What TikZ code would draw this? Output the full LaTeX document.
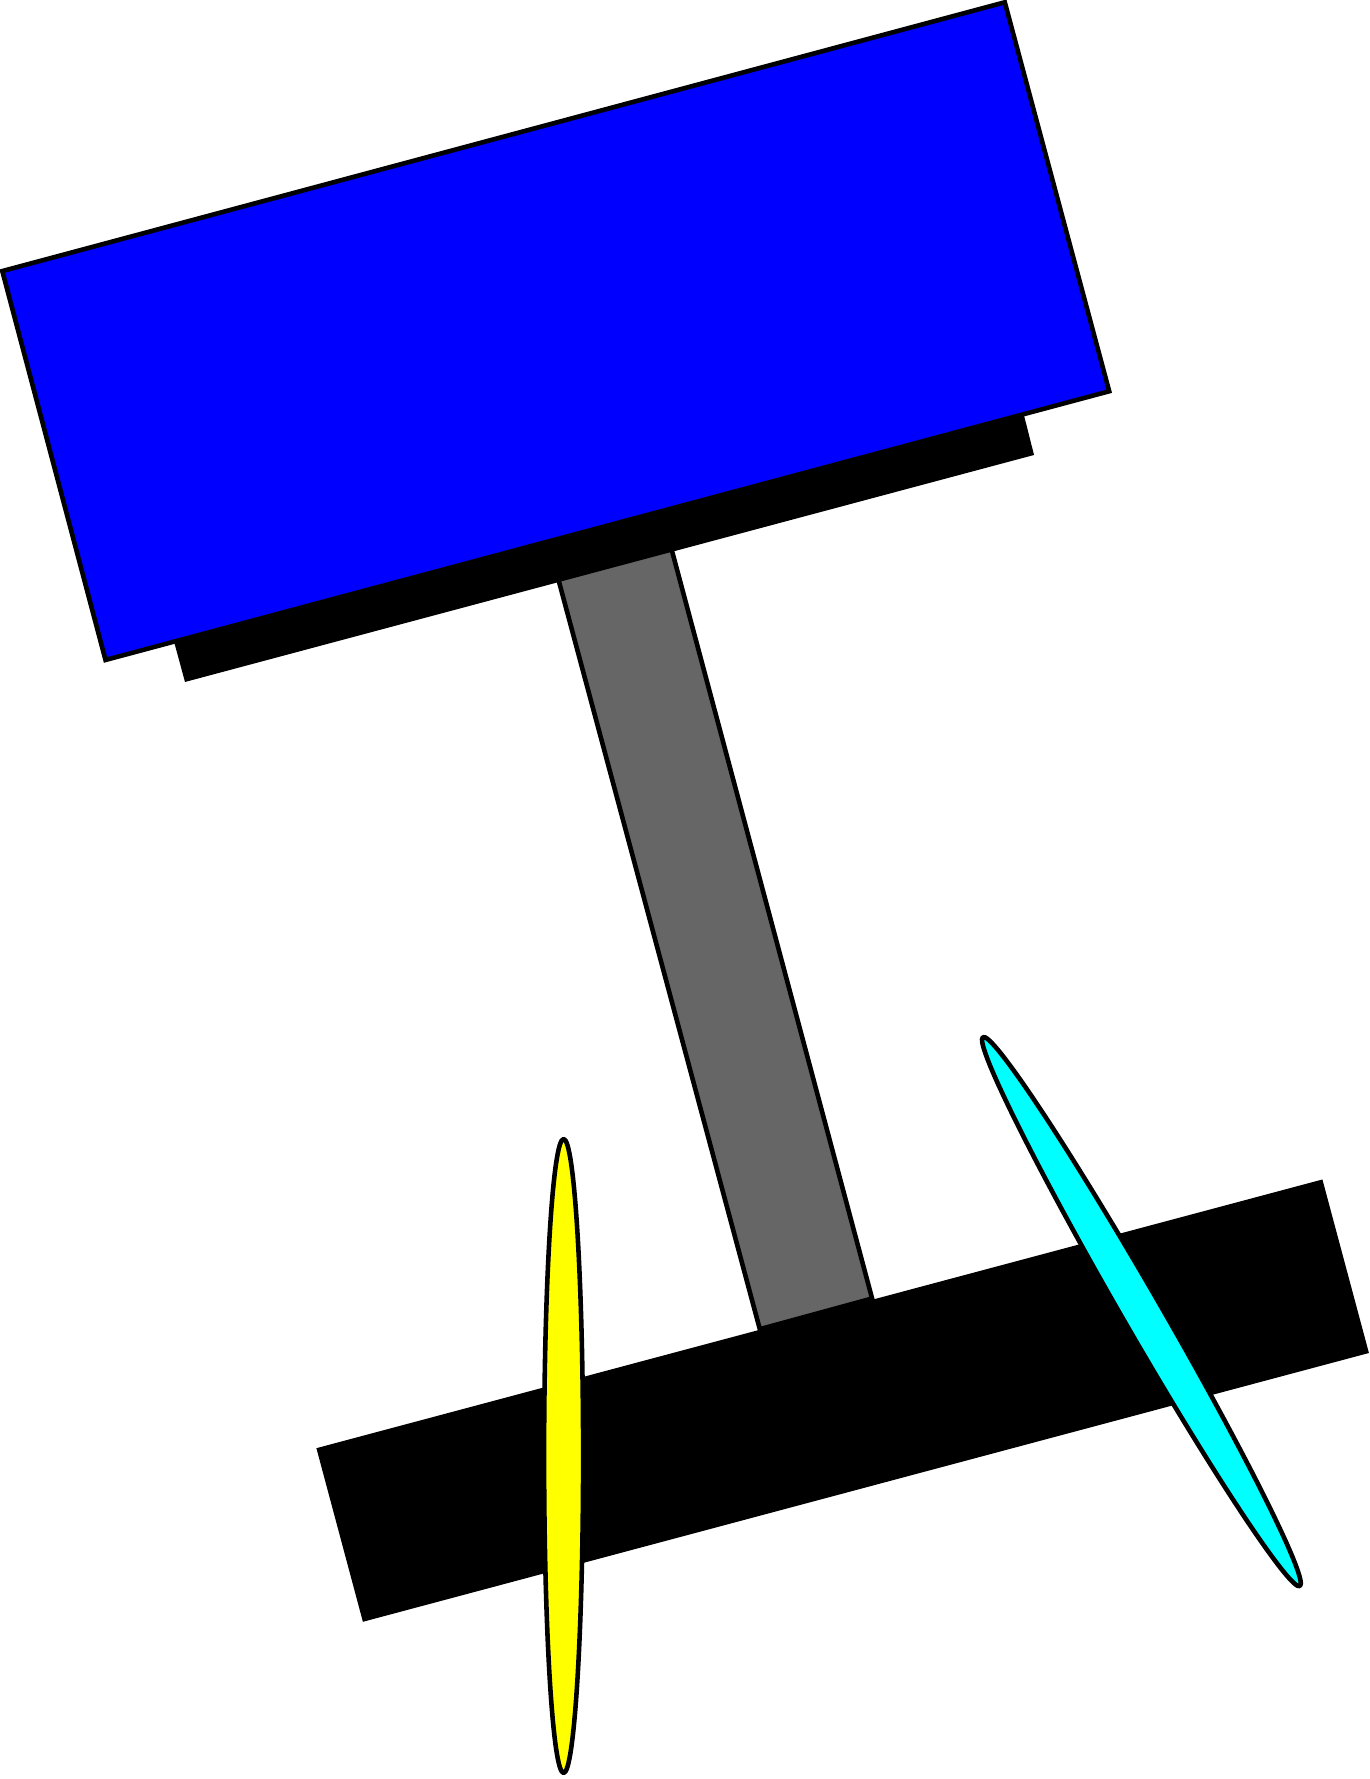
\documentclass[tikz,border=0pt]{standalone}
\definecolor{postgray}{HTML}{666666}
\definecolor{boardblue}{HTML}{0000FF}
\definecolor{pureyellow}{HTML}{FFFF00}
\definecolor{purecyan}{HTML}{00FFFF}
\begin{document}
\begin{tikzpicture}[x=0.01cm,y=0.01cm,
  outlined/.style={draw=black,line width=1.3pt,line join=miter},
  blade/.style={draw=black,line width=1.3pt,line join=round}]
\useasboundingbox (0,0) rectangle (1370,1779);
% gray post
\fill[postgray,outlined] (551,1227) -- (664,1258) -- (872.1,480.5) -- (759.8,449.8) -- cycle;
% black shadow behind the board
\fill[black] (160,1189) -- (1010,1419) -- (1034,1324) -- (185,1097) -- cycle;
% blue board
\fill[boardblue,outlined] (2.3,1507.9) -- (1004.8,1776.7) -- (1109.2,1387.7) -- (105.5,1119.0) -- cycle;
% black bar
\fill[black] (316.4,330.8) -- (1322.4,599.5) -- (1368.9,426.0) -- (362.9,157.2) -- cycle;
% yellow ellipse
\fill[pureyellow,blade] (563.6,323) ellipse [x radius=19.5, y radius=317];
% cyan ellipse
\fill[purecyan,blade,rotate around={30:(1141.4,467.4)}] (1141.4,467.4) ellipse [x radius=19.5, y radius=317];
\end{tikzpicture}
\end{document}
